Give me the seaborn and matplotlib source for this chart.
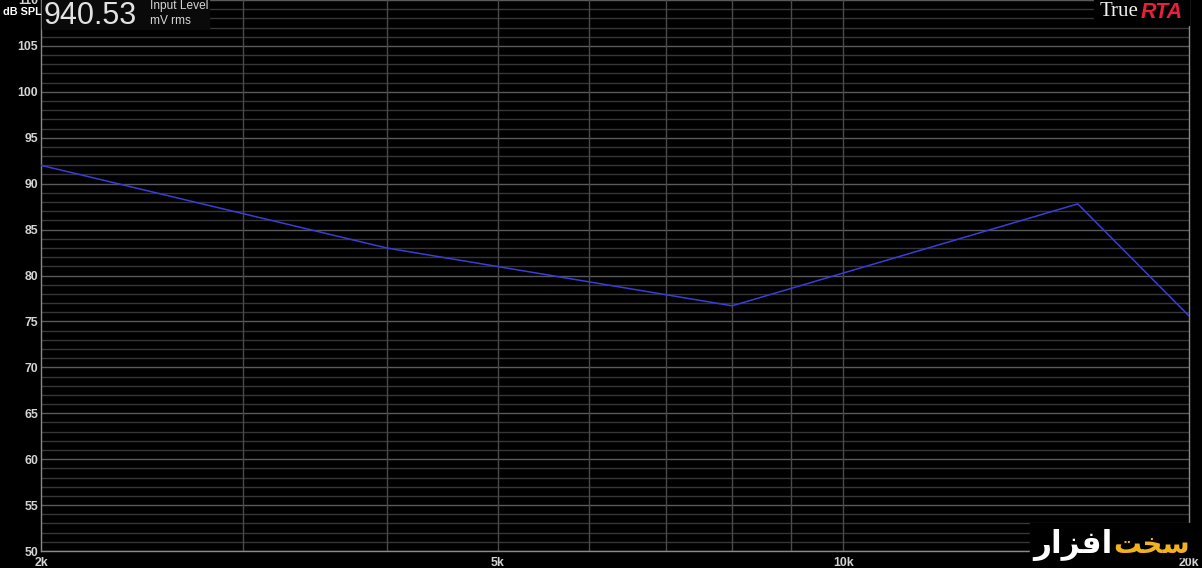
import numpy as np
import pandas as pd
import matplotlib
matplotlib.use('Agg')
import matplotlib.pyplot as plt
import seaborn as sns

# response readings (Hz, dB SPL) taken off the screen
freqs = [2000, 4000, 8000, 16000, 20000]
levels = [92.0, 83.0, 76.7, 87.8, 75.6]

y_ticks = [50, 55, 60, 65, 70, 75, 80, 85, 90, 95, 100, 105, 110]
x_ticks = [2000, 5000, 10000, 20000]
x_tick_labels = ['2k', '5k', '10k', '20k']
x_grid = [3000, 4000, 5000, 6000, 7000, 8000, 9000, 10000]

input_level = '940.53'

df = pd.DataFrame({'freq': freqs, 'spl': levels})

sns.set_style('dark', {'axes.facecolor': '#000000', 'figure.facecolor': '#000000'})
plt.rcParams['font.family'] = ['Liberation Sans', 'DejaVu Sans']

fig = plt.figure(figsize=(12.02, 5.68), dpi=100)
ax = fig.add_axes([41 / 1202, 17 / 568, 1148 / 1202, 551 / 568])

# grid: every dB, brighter every 5 dB
for v in range(50, 111):
    col = '#5a5a5a' if v % 5 == 0 else '#363636'
    ax.axhline(v, color=col, lw=1, zorder=1)
for f in x_grid:
    ax.axvline(f, color='#4a4a4a', lw=1, zorder=1)

sns.lineplot(data=df, x='freq', y='spl', ax=ax, color='#3c3cd8', lw=1.1, zorder=3)

ax.set_xscale('log')
ax.set_xlim(2000, 20000)
ax.set_ylim(50, 110)
ax.set_xticks(x_ticks)
ax.set_xticklabels(x_tick_labels)
ax.xaxis.set_minor_locator(matplotlib.ticker.NullLocator())
ax.set_yticks(y_ticks)
ax.set_xlabel('')
ax.set_ylabel('')
ax.grid(False)
ax.tick_params(axis='both', length=0, colors='#d4d4d4', labelsize=8.8)
ax.tick_params(axis='x', pad=4)
ax.tick_params(axis='y', pad=2)
for lab in ax.get_xticklabels() + ax.get_yticklabels():
    lab.set_fontweight('bold')

for side in ['left', 'bottom', 'right']:
    ax.spines[side].set_visible(True)
    ax.spines[side].set_color('#8a8a8a')
    ax.spines[side].set_linewidth(1)
ax.spines['top'].set_visible(False)

# header readout
fig.text(3 / 1202, 1 - 12 / 568, 'dB SPL', color='#ffffff', fontsize=7.8, fontweight='bold',
         ha='left', va='center')
fig.patches.append(matplotlib.patches.Rectangle((42 / 1202, 1 - 29 / 568), 167 / 1202, 29 / 568,
                                                transform=fig.transFigure, color='#0a0a0a', zorder=5))
fig.text(44 / 1202, 1 - 16 / 568, input_level, color='#e2e2e2', fontsize=22,
         ha='left', va='center', zorder=6)
fig.text(150 / 1202, 1 - 6 / 568, 'Input Level', color='#d6d6d6', fontsize=8.6,
         ha='left', va='center', zorder=6)
fig.text(150 / 1202, 1 - 21 / 568, 'mV rms', color='#d6d6d6', fontsize=8.6,
         ha='left', va='center', zorder=6)

# TrueRTA badge
fig.patches.append(matplotlib.patches.Rectangle((1094 / 1202, 1 - 25 / 568), 95 / 1202, 25 / 568,
                                                transform=fig.transFigure, color='#000000', zorder=5))
fig.text(1139 / 1202, 1 - 12 / 568, 'True', color='#f0f0f0', fontsize=15,
         family=['Liberation Serif', 'DejaVu Serif'], ha='right', va='center', zorder=6)
fig.text(1141 / 1202, 1 - 12 / 568, 'RTA', color='#e8203c', fontsize=15.5, fontweight='bold',
         fontstyle='italic', ha='left', va='center', zorder=6)

# logo, Arabic presentation forms in visual order
fig.patches.append(matplotlib.patches.Rectangle((1030 / 1202, 11 / 568), 165 / 1202, 34 / 568,
                                                transform=fig.transFigure, color='#000000', zorder=5))
fig.text(1112 / 1202, 1 - 545 / 568, '\uFEAD\uFE8D\uFEB0\uFED3\uFE8D', color='#ffffff',
         fontsize=22.5, fontweight='bold', family=['DejaVu Sans'], ha='right', va='center', zorder=6)
fig.text(1113 / 1202, 1 - 545 / 568, '\uFE96\uFEA8\uFEB3', color='#f2b21e',
         fontsize=20, fontweight='bold', family=['DejaVu Sans'], ha='left', va='center', zorder=6)

fig.savefig('out.png', dpi=100, facecolor='#000000')
